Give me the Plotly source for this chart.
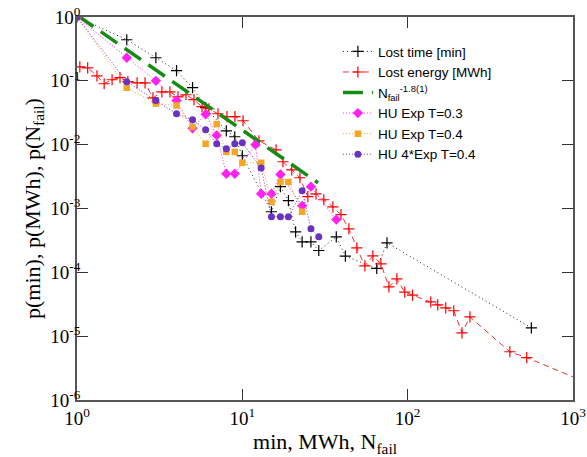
import plotly.graph_objects as go

# ---- data ----
time_x = [1, 2, 3, 4, 5, 6, 8, 9, 10, 15, 17, 19, 21, 23, 26, 29, 37, 42, 65, 75, 560]
time_y = [1, 0.44, 0.23, 0.144, 0.078, 0.038, 0.0165, 0.0133, 0.0067, 0.00089, 0.0022,
          0.00133, 0.00043, 0.0003, 0.0003, 0.00022, 0.00036, 0.00018, 0.000115, 0.00029, 1.35e-5]

energy_x = [1.04, 1.16, 1.32, 1.46, 1.63, 1.82, 2.03, 2.31, 2.58, 2.88, 3.26, 3.65, 4.08, 4.56,
            5.10, 5.70, 6.28, 7.12, 8.07, 9.02, 10.1, 12.6, 16.0, 17.6, 19.9, 22.3, 24.9, 27.9,
            31.1, 35.3, 39.5, 44.1, 49.3, 55.1, 61.6, 68.9, 77, 86, 96, 107, 138, 152, 170, 190,
            213, 238, 415, 525, 1452]
energy_y = [0.166, 0.160, 0.120, 0.090, 0.104, 0.112, 0.097, 0.093, 0.093, 0.054, 0.067, 0.067,
            0.056, 0.0605, 0.0506, 0.0393, 0.0365, 0.0305, 0.0274, 0.0274, 0.0237, 0.0115, 0.0083,
            0.0054, 0.00404, 0.00303, 0.00153, 0.0017, 0.00137, 0.00106, 0.0008, 0.00048, 0.000242,
            0.000126, 0.000181, 0.000136, 5.9e-5, 7.9e-5, 4.9e-5, 4.4e-5, 3.44e-5, 3.1e-5, 2.78e-5,
            2.5e-5, 1.13e-5, 2.0e-5, 5.7e-6, 4.6e-6, 1.55e-6]

fit_x = [1, 28.7]
fit_y = [1.07, 0.00253]

hu03_x = [1, 2, 3, 4, 5, 6, 7, 8, 9, 12, 13, 15, 17, 23, 26, 37]
hu03_y = [1, 0.23, 0.10, 0.049, 0.018, 0.030, 0.014, 0.0035, 0.0035, 0.010, 0.0017, 0.0017,
          0.0034, 0.0011, 0.0022, 0.00067]

hu04_x = [1, 2, 3, 4, 5, 6, 7, 8, 9, 10, 13, 15, 17, 19, 23]
hu04_y = [1, 0.078, 0.044, 0.041, 0.019, 0.0103, 0.021, 0.0077, 0.0077, 0.0052, 0.0052,
          0.00127, 0.0026, 0.0026, 0.00089]

hu4_x = [1, 2, 3, 4, 5, 6, 7, 8, 9, 10, 13, 15, 17, 19, 23, 26, 29]
hu4_y = [1, 0.097, 0.049, 0.0305, 0.0246, 0.0171, 0.0103, 0.0086, 0.0103, 0.0107, 0.0043,
         0.00074, 0.00074, 0.00074, 0.0019, 0.00048, 0.00036]

x_tickvals = [1, 10, 100, 1000]
x_ticktext = ["10<sup>0</sup>", "10<sup>1</sup>", "10<sup>2</sup>", "10<sup>3</sup>"]
y_tickvals = [1e-6, 1e-5, 1e-4, 1e-3, 1e-2, 1e-1, 1]
y_ticktext = ["10<sup>-6</sup>", "10<sup>-5</sup>", "10<sup>-4</sup>", "10<sup>-3</sup>",
              "10<sup>-2</sup>", "10<sup>-1</sup>", "10<sup>0</sup>"]

PURPLE = "#6a32bf"
ORANGE = "#f5a623"
MAGENTA = "#ff22ee"
SERIF = "Liberation Serif, Times New Roman, serif"

fig = go.Figure()
fig.add_trace(go.Scatter(x=time_x, y=time_y, name="Lost time [min]", mode="lines+markers",
                         line=dict(color="#222222", width=1, dash="1px,3px"),
                         marker=dict(symbol="cross-thin", size=8, line=dict(color="black", width=1.2))))
fig.add_trace(go.Scatter(x=energy_x, y=energy_y, name="Lost energy [MWh]", mode="lines+markers",
                         line=dict(color="#e8303a", width=1, dash="6px,4px"),
                         marker=dict(symbol="cross-thin", size=8, line=dict(color="#ff0000", width=1.2))))
fig.add_trace(go.Scatter(x=fit_x, y=fit_y, name="N<sub>fail</sub><sup>-1.8(1)</sup>", mode="lines",
                         line=dict(color="#148c14", width=3.5, dash="20px,9px")))
fig.add_trace(go.Scatter(x=hu03_x, y=hu03_y, name="HU Exp T=0.3", mode="lines+markers",
                         line=dict(color=MAGENTA, width=1, dash="1px,2px"),
                         marker=dict(symbol="diamond", size=8, color=MAGENTA)))
fig.add_trace(go.Scatter(x=hu04_x, y=hu04_y, name="HU Exp T=0.4", mode="lines+markers",
                         line=dict(color=ORANGE, width=1, dash="1px,2px"),
                         marker=dict(symbol="square", size=6.5, color=ORANGE)))
fig.add_trace(go.Scatter(x=hu4_x, y=hu4_y, name="HU 4*Exp T=0.4", mode="lines+markers",
                         line=dict(color=PURPLE, width=1, dash="1px,2px"),
                         marker=dict(symbol="circle", size=7, color=PURPLE)))

axis_common = dict(type="log", showline=True, linecolor="#555555", linewidth=1.5, mirror="ticks",
                   ticks="inside", ticklen=11, tickwidth=1.3, tickcolor="#333333",
                   showgrid=False, zeroline=False, automargin=False,
                   tickfont=dict(family=SERIF, size=19, color="black"))

fig.update_xaxes(range=[0, 3], tickvals=x_tickvals, ticktext=x_ticktext,
                 title=dict(text="min, MWh, N<sub>fail</sub>", standoff=6,
                            font=dict(family=SERIF, size=22, color="black")),
                 **axis_common)
fig.update_yaxes(range=[-6, 0], tickvals=y_tickvals, ticktext=y_ticktext, ticklabelstandoff=-9,
                 title=dict(text="p(min), p(MWh), p(N<sub>fail</sub>)", standoff=4,
                            font=dict(family=SERIF, size=22, color="black")),
                 **axis_common)

fig.update_layout(
    width=587, height=457,
    margin=dict(l=77, r=14, t=17, b=57),
    paper_bgcolor="white", plot_bgcolor="white",
    legend=dict(x=0.526, y=0.95, xanchor="left", yanchor="top", bgcolor="rgba(0,0,0,0)",
                font=dict(family="Liberation Sans, Arial, sans-serif", size=13.5, color="black"),
                tracegroupgap=0, itemwidth=30),
    showlegend=True,
)

fig.write_html("out.html")
